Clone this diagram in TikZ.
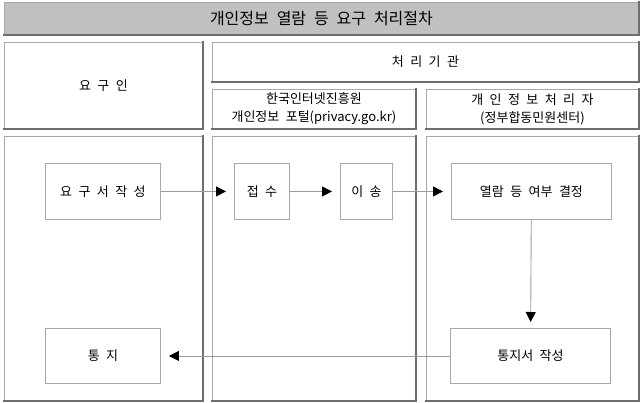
\documentclass[tikz,border=0pt]{standalone}
\usepackage{fontspec}
\setmainfont{Noto Sans CJK KR}[WordSpace=2.2]
\usetikzlibrary{arrows.meta}
\definecolor{lightedge}{HTML}{A8A8A8}
\definecolor{darkedge}{HTML}{6E6E6E}
\definecolor{titlegray}{HTML}{C0C0C0}
\definecolor{wire}{HTML}{9A9A9A}
\tikzset{
	shade/.style={draw=darkedge, line width=1.5pt, line cap=rect},
	panel/.style={draw=lightedge, line width=0.9pt, anchor=north west, inner sep=0pt, align=center,
		append after command={(\tikzlastnode.north east) edge[shade] (\tikzlastnode.south east)
			(\tikzlastnode.south east) edge[shade] (\tikzlastnode.south west)}},
	stage/.style={draw=lightedge, line width=0.9pt, anchor=north west, inner sep=0pt, minimum height=56pt},
	flow/.style={draw=wire, line width=0.9pt, -{Triangle[length=10pt, width=10pt, color=black]}, shorten >=8pt},
}
\begin{document}
\begin{tikzpicture}[x=1pt, y=-1pt, font=\fontsize{13}{18}\selectfont]
	\useasboundingbox (0,0) rectangle (642,403);
	\node[panel, fill=titlegray, minimum width=634pt, minimum height=32pt, font=\fontsize{16}{18}\selectfont] (T) at (4,2) {개인정보 열람 등 요구 처리절차};
	\node[panel, minimum width=198pt, minimum height=86pt] (R) at (4,42) {요 구 인};
	\node[panel, minimum width=426pt, minimum height=39pt] (P) at (212,42) {처 리 기 관};
	\node[panel, minimum width=203pt, minimum height=39pt] (K) at (212,89) {한국인터넷진흥원\\개인정보 포털(privacy.go.kr)};
	\node[panel, minimum width=212pt, minimum height=39pt] (H) at (426,89) {개 인 정 보 처 리 자\\(정부합동민원센터)};
	\node[panel, minimum width=198pt, minimum height=264pt] (C1) at (4,136) {};
	\node[panel, minimum width=203pt, minimum height=264pt] (C2) at (212,136) {};
	\node[panel, minimum width=212pt, minimum height=264pt] (C3) at (426,136) {};
	\node[stage, minimum width=115pt] (S1) at (45,163) {요 구 서 작 성};
	\node[stage, minimum width=55pt] (S2) at (234,163) {접 수};
	\node[stage, minimum width=52pt] (S3) at (340,163) {이 송};
	\node[stage, minimum width=160pt] (S4) at (451,163) {열람 등 여부 결정};
	\node[stage, minimum width=160pt, minimum height=55pt] (S5) at (450,328) {통지서 작성};
	\node[stage, minimum width=115pt, minimum height=55pt] (S6) at (45,328) {통 지};
	\draw[flow] (S1) -- (S2);
	\draw[flow] (S2) -- (S3);
	\draw[flow] (S3) -- (S4);
	\draw[flow, shorten >=6pt] (S4) -- (S5);
	\draw[flow] (S5) -- (S6);
\end{tikzpicture}
\end{document}
